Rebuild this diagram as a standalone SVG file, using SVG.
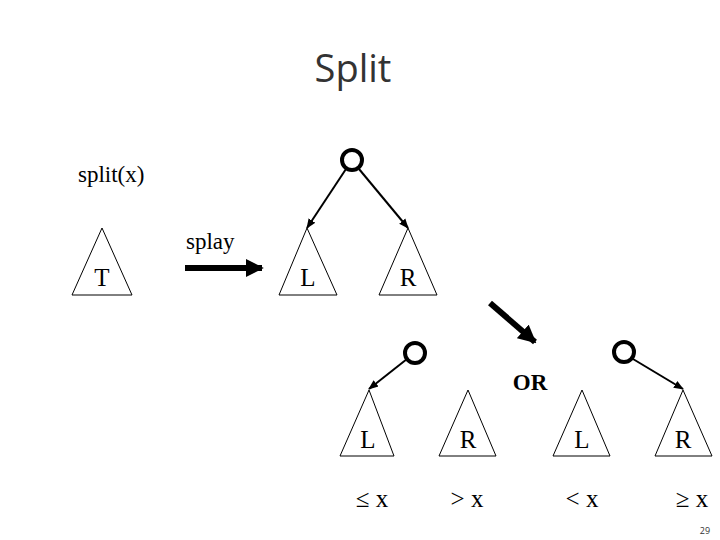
<svg xmlns="http://www.w3.org/2000/svg" width="720" height="540" viewBox="0 0 720 540">
<defs>
<style>
.s{font-family:"Liberation Serif",serif;font-size:23px;fill:#000}
.n{font-family:"Liberation Serif",serif;font-size:25px;fill:#000}
.tri{fill:#fff;stroke:#000;stroke-width:1}
.c{fill:#fff;stroke:#000;stroke-width:4}
.e{stroke:#000;stroke-width:2;fill:none;marker-end:url(#a)}
.big{stroke:#000;stroke-width:6;fill:none;marker-end:url(#b)}
</style>
<marker id="a" viewBox="0 0 10 10" refX="9" refY="5" markerWidth="5" markerHeight="5" orient="auto"><path d="M0,1L10,5L0,9z"/></marker>
<marker id="b" viewBox="0 0 10 10" refX="9" refY="5" markerWidth="3" markerHeight="3" orient="auto"><path d="M0,0L10,5L0,10z"/></marker>
</defs>
<rect width="720" height="540" fill="#fff"/>
<text x="353" y="82" text-anchor="middle" style="font-family:'Open Sans',sans-serif;font-size:38px;fill:#333">Split</text>
<text class="s" x="78" y="182">split(x)</text>
<text class="s" x="186" y="249">splay</text>
<text class="s" x="530" y="390" text-anchor="middle" font-weight="bold">OR</text>
<g id="connectors">
<line class="e" x1="346" y1="169" x2="307" y2="228"/>
<line class="e" x1="359" y1="169" x2="408" y2="228"/>
<line class="e" x1="407" y1="359" x2="369" y2="389"/>
<line class="e" x1="633" y1="359" x2="683" y2="389"/>
<line class="big" x1="185" y1="268" x2="262" y2="268"/>
<line class="big" x1="490" y1="303" x2="535" y2="342"/>
</g>
<g id="T"><polygon class="tri" points="102,228 72,295 132,295"/><text class="n" x="102" y="286" text-anchor="middle">T</text></g>
<g id="root1"><circle class="c" cx="352" cy="160" r="10"/></g>
<g id="L1"><polygon class="tri" points="307,228 279,295 337,295"/><text class="n" x="308" y="286" text-anchor="middle">L</text></g>
<g id="R1"><polygon class="tri" points="408,228 379,295 437,295"/><text class="n" x="408" y="286" text-anchor="middle">R</text></g>
<g id="root2"><circle class="c" cx="415" cy="353" r="10"/></g>
<g id="L2"><polygon class="tri" points="369,390 340,456 394,456"/><text class="n" x="368" y="448" text-anchor="middle">L</text></g>
<g id="R2"><polygon class="tri" points="468,390 439,456 496,456"/><text class="n" x="468" y="448" text-anchor="middle">R</text></g>
<g id="root3"><circle class="c" cx="624" cy="352" r="10"/></g>
<g id="L3"><polygon class="tri" points="582,390 553,456 610,456"/><text class="n" x="582" y="448" text-anchor="middle">L</text></g>
<g id="R3"><polygon class="tri" points="683,390 655,456 712,456"/><text class="n" x="683" y="448" text-anchor="middle">R</text></g>
<text class="n" x="372" y="507" text-anchor="middle">≤ x</text>
<text class="n" x="467" y="507" text-anchor="middle">&gt; x</text>
<text class="n" x="582" y="507" text-anchor="middle">&lt; x</text>
<text class="n" x="692" y="507" text-anchor="middle">≥ x</text>
<text x="705" y="534" text-anchor="middle" style="font-family:'Open Sans',sans-serif;font-size:9px;fill:#333">29</text>
</svg>
